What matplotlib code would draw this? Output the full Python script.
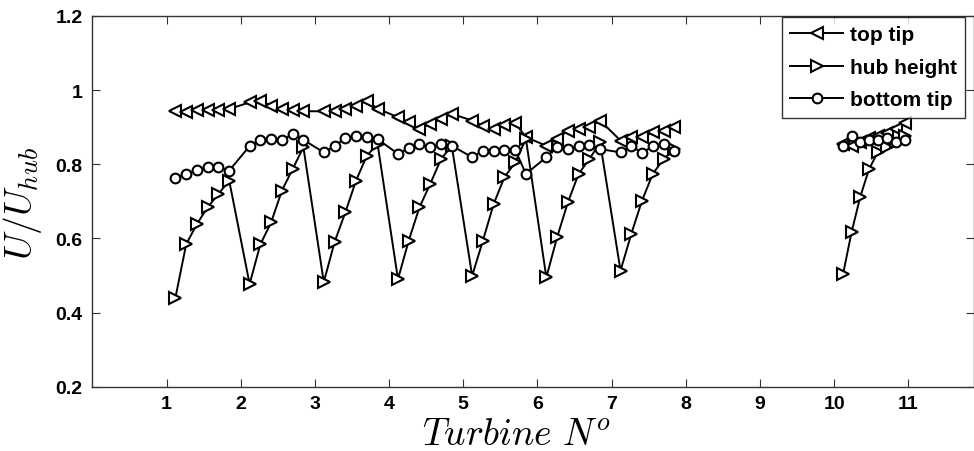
import matplotlib
matplotlib.use('Agg')
import matplotlib.pyplot as plt
import numpy as np

# measurement positions along the row (turbine number + offset)
x_pos = [1.12, 1.265, 1.41, 1.555, 1.70, 1.845,
         2.12, 2.265, 2.41, 2.555, 2.70, 2.845,
         3.12, 3.265, 3.41, 3.555, 3.70, 3.845,
         4.12, 4.265, 4.41, 4.555, 4.70, 4.845,
         5.12, 5.265, 5.41, 5.555, 5.70, 5.845,
         6.12, 6.265, 6.41, 6.555, 6.70, 6.845,
         7.12, 7.265, 7.41, 7.555, 7.70, 7.845,
         np.nan,
         10.12, 10.235, 10.35, 10.47, 10.59, 10.71, 10.83, 10.95]

top_tip = [0.945, 0.940, 0.947, 0.946, 0.946, 0.949,
           0.967, 0.972, 0.958, 0.949, 0.947, 0.943,
           0.943, 0.943, 0.950, 0.957, 0.972, 0.950,
           0.927, 0.913, 0.895, 0.909, 0.922, 0.936,
           0.918, 0.904, 0.895, 0.906, 0.911, 0.873,
           0.850, 0.868, 0.891, 0.895, 0.900, 0.918,
           0.864, 0.873, 0.873, 0.886, 0.891, 0.900,
           np.nan,
           0.855, 0.850, 0.860, 0.870, 0.875, 0.885, 0.895, 0.910]

hub_height = [0.440, 0.584, 0.639, 0.684, 0.720, 0.756,
              0.477, 0.584, 0.643, 0.729, 0.787, 0.846,
              0.482, 0.590, 0.670, 0.756, 0.823, 0.855,
              0.490, 0.594, 0.684, 0.747, 0.814, 0.850,
              0.499, 0.594, 0.693, 0.765, 0.805, 0.868,
              0.495, 0.603, 0.697, 0.774, 0.814, 0.859,
              0.513, 0.612, 0.702, 0.774, 0.814, 0.840,
              np.nan,
              0.504, 0.617, 0.711, 0.787, 0.833, 0.846, 0.860, 0.875]

bottom_tip = [0.762, 0.774, 0.785, 0.792, 0.792, 0.783,
              0.849, 0.865, 0.868, 0.865, 0.882, 0.866,
              0.832, 0.849, 0.871, 0.875, 0.873, 0.868,
              0.828, 0.843, 0.855, 0.846, 0.855, 0.850,
              0.819, 0.837, 0.837, 0.839, 0.839, 0.774,
              0.819, 0.846, 0.841, 0.849, 0.852, 0.841,
              0.832, 0.850, 0.830, 0.849, 0.855, 0.837,
              np.nan,
              0.850, 0.875, 0.860, 0.865, 0.865, 0.870, 0.860, 0.865]

xticks = [1, 2, 3, 4, 5, 6, 7, 8, 9, 10, 11]
yticks = [0.2, 0.4, 0.6, 0.8, 1.0, 1.2]
ytick_labels = ['0.2', '0.4', '0.6', '0.8', '1', '1.2']

plt.rcParams['font.family'] = ['Liberation Sans', 'DejaVu Sans']
plt.rcParams['font.weight'] = 'bold'
plt.rcParams['mathtext.fontset'] = 'cm'

fig = plt.figure(figsize=(9.74, 4.52), dpi=100)
ax = fig.add_axes([0.0948, 0.1423, 0.9052, 0.8201])

style = dict(color='black', lw=1.4, markeredgewidth=1.5,
             markerfacecolor='white', markeredgecolor='black')
ax.plot(x_pos, top_tip, marker='<', markersize=8, label='top tip', **style)
ax.plot(x_pos, hub_height, marker='>', markersize=8, label='hub height', **style)
ax.plot(x_pos, bottom_tip, marker='o', markersize=7, label='bottom tip', **style)

ax.set_xlim(0, 11.885)
ax.set_ylim(0.2, 1.2)
ax.set_xticks(xticks)
ax.set_yticks(yticks)
ax.set_yticklabels(ytick_labels)
ax.tick_params(direction='in', length=6, width=0.8, top=True, right=True,
               labelsize=14, color='#333333')
ax.tick_params(axis='x', pad=6)
ax.tick_params(axis='y', pad=7)
for s in ax.spines.values():
    s.set_color('#333333')
    s.set_linewidth(1.0)

# label positions given in axes fraction (axes is 882 x 370.7 px)
ax.set_xlabel(r'$Turbine\ N^o$', fontsize=27)
ax.xaxis.set_label_coords((516 - 92) / 882, -0.078)
ax.set_ylabel(r'$U/U_{hub}$', fontsize=27)
ax.yaxis.set_label_coords((44 - 92) / 882, (452 - 204 - 64.3) / 370.7)

leg = ax.legend(loc='upper right', bbox_to_anchor=(965 / 974, 1 - 18 / 452),
                bbox_transform=fig.transFigure, borderaxespad=0,
                prop={'size': 15, 'weight': 'bold'}, frameon=True, fancybox=False,
                handlelength=2.55, handletextpad=0.3,
                labelspacing=0.65, borderpad=0.4, edgecolor='black')
leg.get_frame().set_linewidth(1.0)

fig.savefig('out.png', dpi=100)
